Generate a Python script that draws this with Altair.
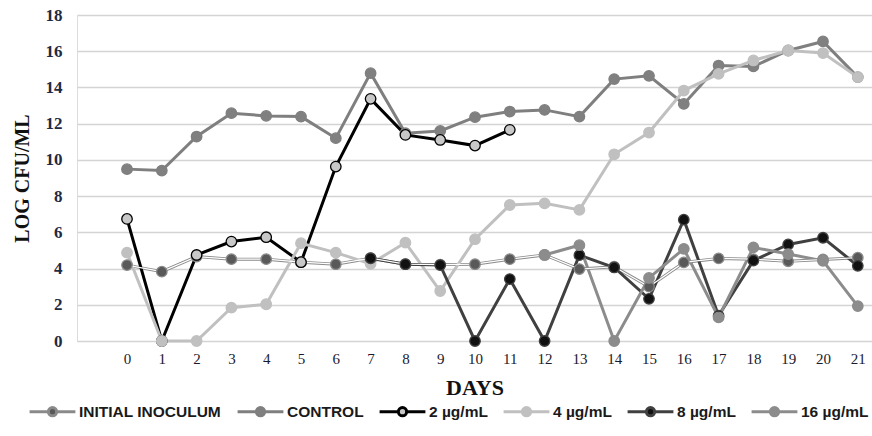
import altair as alt
import pandas as pd

days = list(range(22))
series_names = ["INITIAL INOCULUM", "CONTROL", "2 µg/mL", "4 µg/mL", "8 µg/mL", "16 µg/mL"]

initial_inoculum = [4.19, 3.83, 4.66, 4.52, 4.52, 4.35, 4.24, 4.57, 4.24, 4.22, 4.24, 4.52,
                    4.75, 3.97, 4.10, 3.00, 4.34, 4.56, 4.52, 4.40, 4.50, 4.60]
control = [9.49, 9.41, 11.29, 12.58, 12.43, 12.39, 11.20, 14.79, 11.47, 11.60, 12.36, 12.67,
           12.76, 12.39, 14.46, 14.64, 13.09, 15.21, 15.16, 16.04, 16.54, 14.57]
ug2 = [6.74, 0.0, 4.75, 5.49, 5.73, 4.35, 9.63, 13.37, 11.38, 11.10, 10.79, 11.66,
       None, None, None, None, None, None, None, None, None, None]
ug4 = [4.88, 0.0, 0.0, 1.84, 2.03, 5.40, 4.88, 4.26, 5.43, 2.76, 5.62, 7.51,
       7.60, 7.24, 10.31, 11.51, 13.83, 14.75, 15.49, 16.04, 15.90, 14.57]
ug8 = [None, None, None, None, None, None, None, 4.57, 4.24, 4.19, 0.0, 3.42,
       0.0, 4.74, 4.06, 2.33, 6.70, 1.40, 4.44, 5.33, 5.70, 4.15]
ug16 = [None, None, None, None, None, None, None, None, None, None, None, None,
        4.75, 5.29, 0.0, 3.48, 5.09, 1.30, 5.17, 4.80, 4.43, 1.93]

y_ticks = list(range(0, 19, 2))

line_colors = ["#8a8a8a", "#7f7f7f", "#000000", "#c0c0c0", "#404040", "#8c8c8c"]
marker_fills = ["#595959", "#808080", "#c8c8c8", "#c0c0c0", "#111111", "#8c8c8c"]

rows = []
for name, vals in zip(series_names, [initial_inoculum, control, ug2, ug4, ug8, ug16]):
    for d, v in zip(days, vals):
        if v is not None:
            rows.append({"day": d, "value": v, "series": name})
df = pd.DataFrame(rows)

legend_path = ("M-1,0L-0.18,0M0.18,0L1,0"
               "M0.18,0A0.18,0.18,0,1,1,-0.18,0A0.18,0.18,0,1,1,0.18,0Z")

legend = alt.Legend(
    title=None, orient="none", direction="horizontal", legendX=-49, legendY=372,
    symbolType=legend_path, symbolSize=2100, symbolStrokeWidth=3,
    labelFont="Liberation Sans", labelFontWeight="bold", labelFontSize=15.5,
    labelColor="#1a1a1a", labelOffset=2, columnPadding=9, symbolOpacity=1,
)

x_enc = alt.X("day:Q",
              scale=alt.Scale(domain=[-1.437, 21.408], nice=False, zero=False),
              axis=alt.Axis(values=days, title="DAYS", grid=False, domain=False, ticks=False,
                            labelOverlap=False, labelFlush=False,
                            labelFont="Liberation Serif", labelFontSize=15, labelColor="#1a1a2e",
                            labelPadding=10, titleFont="Liberation Serif", titleFontSize=22,
                            titleFontWeight="bold", titleColor="#111111", titlePadding=11))
y_enc = alt.Y("value:Q",
              scale=alt.Scale(domain=[0, 18], nice=False),
              axis=alt.Axis(values=y_ticks, title="LOG CFU/ML", grid=True, gridColor="#d4d4d4",
                            gridWidth=1.5, domain=False, ticks=False, labelOverlap=False,
                            labelFlush=False,
                            labelFont="Liberation Serif", labelFontSize=17, labelFontWeight="bold",
                            labelColor="#1f2a44", labelPadding=15,
                            titleFont="Liberation Serif", titleFontSize=20, titleFontWeight="bold",
                            titleColor="#111111", titlePadding=13))

stroke_scale = alt.Scale(domain=series_names, range=line_colors)
fill_scale = alt.Scale(domain=series_names, range=marker_fills)

base = alt.Chart(df).encode(x=x_enc, y=y_enc)

lines = base.mark_line(strokeWidth=3).encode(
    stroke=alt.Stroke("series:N", scale=stroke_scale, legend=legend, sort=series_names),
    detail="series:N",
)

inoc_core = base.transform_filter(alt.datum.series == "INITIAL INOCULUM").mark_line(
    strokeWidth=1.2, color="#ffffff")

points = base.mark_point(filled=True, size=110, opacity=1, strokeWidth=1.3).encode(
    stroke=alt.Stroke("series:N", scale=stroke_scale, legend=legend, sort=series_names),
    fill=alt.Fill("series:N", scale=fill_scale, legend=legend, sort=series_names),
)

chart = alt.layer(lines, inoc_core, points).properties(
    width=795, height=326,
    autosize=alt.AutoSizeParams(type="none"),
    padding={"left": 77, "top": 15, "right": 0, "bottom": 95},
).configure_view(stroke=None).configure(background="#ffffff")

chart.save("out.html", embed_options={"renderer": "svg", "actions": False})
